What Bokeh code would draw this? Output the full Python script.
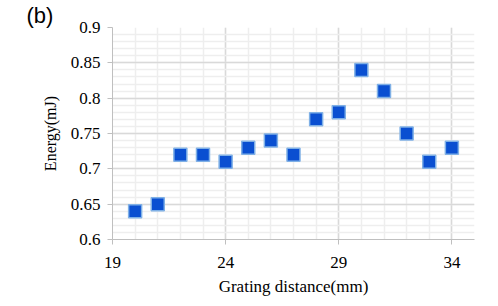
from bokeh.plotting import figure
from bokeh.models import FixedTicker, Range1d, ColumnDataSource
from bokeh.embed import file_html
from bokeh.resources import INLINE

# Data
grating_distance = [20, 21, 22, 23, 24, 25, 26, 27, 28, 29, 30, 31, 32, 33, 34]
energy = [0.64, 0.65, 0.72, 0.72, 0.71, 0.73, 0.74, 0.72, 0.77, 0.78, 0.84, 0.81, 0.75, 0.71, 0.73]

x_major_ticks = [19, 24, 29, 34]
x_minor_ticks = [19, 20, 21, 22, 23, 24, 25, 26, 27, 28, 29, 30, 31, 32, 33, 34, 35]
y_major_ticks = [0.6, 0.65, 0.7, 0.75, 0.8, 0.85, 0.9]
y_minor_ticks = [0.6, 0.61, 0.62, 0.63, 0.64, 0.65, 0.66, 0.67, 0.68, 0.69,
                 0.7, 0.71, 0.72, 0.73, 0.74, 0.75, 0.76, 0.77, 0.78, 0.79,
                 0.8, 0.81, 0.82, 0.83, 0.84, 0.85, 0.86, 0.87, 0.88, 0.89, 0.9]
y_tick_labels = {0.6: "0.6", 0.65: "0.65", 0.7: "0.7", 0.75: "0.75", 0.8: "0.8", 0.85: "0.85", 0.9: "0.9"}
panel_tag = "(b)"

source = ColumnDataSource(data=dict(x=grating_distance, y=energy))

p = figure(width=490, height=298, output_backend="svg", toolbar_location=None,
           x_range=Range1d(19, 35), y_range=Range1d(0.6, 0.9),
           min_border_left=112, min_border_right=16, min_border_top=24, min_border_bottom=52,
           title=panel_tag)

p.title.align = "left"
p.title.offset = -86
p.title.standoff = 0
p.title.text_font = "Liberation Sans"
p.title.text_font_size = "22px"
p.title.text_font_style = "normal"
p.title.text_color = "black"

p.outline_line_color = None
p.background_fill_color = "white"

serif = "Liberation Serif"

xax = p.xaxis[0]
yax = p.yaxis[0]
xax.ticker = FixedTicker(ticks=x_major_ticks, minor_ticks=x_minor_ticks)
yax.ticker = FixedTicker(ticks=y_major_ticks, minor_ticks=y_minor_ticks)
yax.major_label_overrides = y_tick_labels

for ax in (xax, yax):
    ax.axis_line_color = "#bfbfbf"
    ax.major_tick_line_color = "#bfbfbf"
    ax.major_tick_out = 5
    ax.major_tick_in = 0
    ax.minor_tick_line_color = None
    ax.major_label_text_font = serif
    ax.major_label_text_font_size = "17px"
    ax.major_label_text_font_style = "normal"
    ax.major_label_text_color = "black"
    ax.axis_label_text_font = serif
    ax.axis_label_text_font_style = "normal"
    ax.axis_label_text_color = "black"

xax.major_label_standoff = 12
yax.major_label_standoff = 7
xax.axis_label = "Grating distance(mm)"
yax.axis_label = "Energy(mJ)"
xax.axis_label_text_font_size = "17px"
yax.axis_label_text_font_size = "16px"
xax.axis_label_standoff = 6
yax.axis_label_standoff = 9

p.grid.grid_line_color = "#d9d9d9"
p.grid.grid_line_width = 1.5
p.grid.minor_grid_line_color = "#eeeeee"
p.grid.minor_grid_line_width = 1.5

p.scatter("x", "y", source=source, marker="square", size=13,
          fill_color="#0a4fd1", line_color="#7fb0e6", line_width=1.5)

open("out.html", "w").write(file_html(p, INLINE))
